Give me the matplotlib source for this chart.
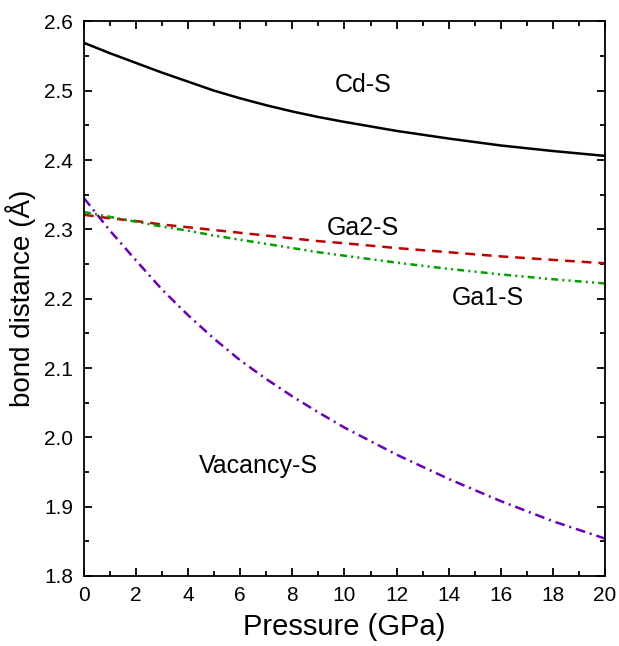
import matplotlib
matplotlib.use("Agg")
import matplotlib.pyplot as plt
from matplotlib.ticker import MultipleLocator

plt.rcParams['font.family'] = ['Liberation Sans', 'DejaVu Sans']
plt.rcParams['lines.scale_dashes'] = False

pressure = [0, 1, 2, 3, 4, 5, 6, 7, 8, 9, 10, 12, 14, 16, 18, 20]
cd_s = [2.569, 2.554, 2.540, 2.526, 2.513, 2.500, 2.489, 2.479, 2.470, 2.462,
        2.455, 2.442, 2.431, 2.421, 2.413, 2.406]
ga2_s = [2.321, 2.316, 2.312, 2.307, 2.303, 2.299, 2.295, 2.291, 2.287, 2.283,
         2.280, 2.273, 2.267, 2.261, 2.256, 2.251]
ga1_s = [2.325, 2.318, 2.311, 2.304, 2.298, 2.291, 2.285, 2.279, 2.273, 2.267,
         2.262, 2.252, 2.243, 2.235, 2.228, 2.222]
vacancy_s = [2.345, 2.298, 2.255, 2.213, 2.176, 2.142, 2.111, 2.084, 2.059, 2.036,
             2.014, 1.975, 1.940, 1.908, 1.879, 1.854]

fig = plt.figure(figsize=(6.19, 6.46), dpi=100)
ax = fig.add_axes([0.1357, 0.1084, 0.8416, 0.8585])

ax.plot(pressure, cd_s, color='black', lw=1.8)
ax.plot(pressure, ga2_s, color='#c00000', lw=1.8, dashes=(7, 5))
ax.plot(pressure, ga1_s, color='#00a000', lw=1.8, dashes=(5, 3, 1.5, 3, 1.5, 3))
ax.plot(pressure, vacancy_s, color='#6a00b8', lw=1.8, dashes=(7, 3.5, 1.5, 3.5))

ax.text(10.7, 2.508, 'Cd-S', fontsize=18, ha='center', va='center')
ax.text(10.7, 2.302, 'Ga2-S', fontsize=18, ha='center', va='center')
ax.text(15.5, 2.201, 'Ga1-S', fontsize=18, ha='center', va='center')
ax.text(6.7, 1.958, 'Vacancy-S', fontsize=18, ha='center', va='center')

ax.set_xlim(0, 20)
ax.set_ylim(1.8, 2.6)
ax.xaxis.set_major_locator(MultipleLocator(2))
ax.xaxis.set_minor_locator(MultipleLocator(1))
ax.yaxis.set_major_locator(MultipleLocator(0.1))
ax.yaxis.set_minor_locator(MultipleLocator(0.05))
ax.tick_params(which='both', direction='in', top=True, right=True, width=1.3, labelsize=15)
ax.tick_params(which='major', length=6)
ax.tick_params(which='minor', length=3.5)
ax.tick_params(axis='x', pad=7)
ax.tick_params(axis='y', pad=8)
for s in ax.spines.values():
    s.set_linewidth(1.3)

ax.set_xlabel('Pressure (GPa)', fontsize=21, labelpad=6)
ax.set_ylabel('bond distance (Å)', fontsize=20, labelpad=6)

fig.savefig('out.png', dpi=100)
